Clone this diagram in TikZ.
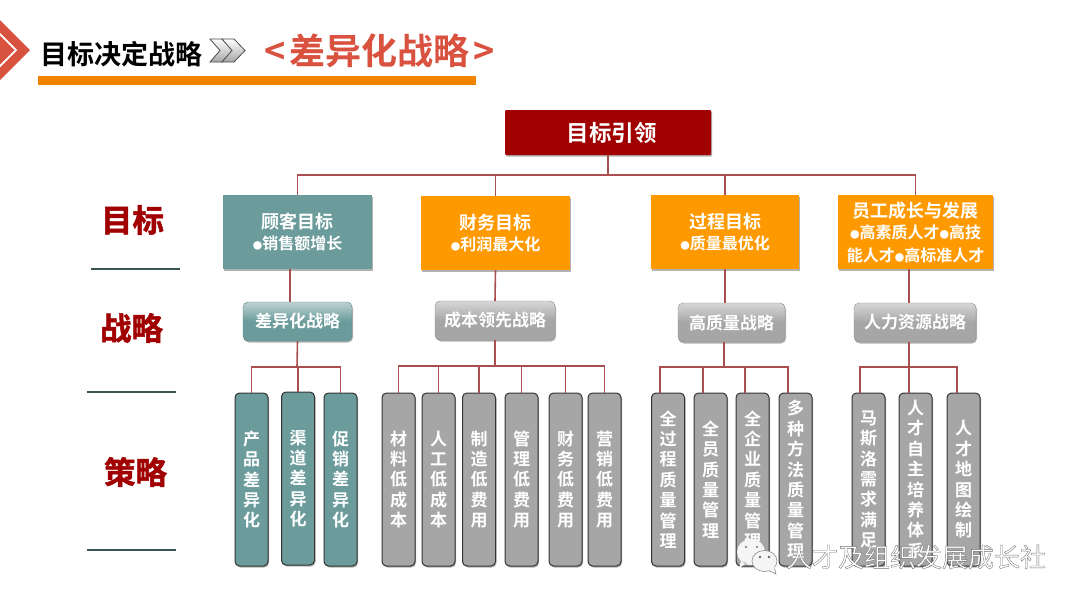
\documentclass[tikz,border=0pt]{standalone}
\usepackage{fontspec}
\setmainfont{Noto Sans CJK SC}[BoldFont={* Bold}]
\usetikzlibrary{shadows,shapes.geometric}
\definecolor{linkred}{HTML}{A94F50}
\definecolor{rootred}{HTML}{A00000}
\definecolor{titlered}{HTML}{D9513F}
\definecolor{teal}{HTML}{6B9B9B}
\definecolor{amber}{HTML}{FF9900}
\definecolor{barorange}{HTML}{F08300}
\definecolor{midgray}{HTML}{A6A6A6}
\tikzset{
	softshadow/.style={drop shadow={shadow xshift=1pt,shadow yshift=-1.5pt,opacity=0.3,fill=black}},
	link/.style={color=linkred, line width=1.6pt},
	rule/.style={color=teal!55!black, line width=1.8pt},
	rootbox/.style={rectangle, rounded corners=1pt, fill=rootred, softshadow, text=white, font=\bfseries\fontsize{22.5}{24}\selectfont, minimum width=206pt, minimum height=45pt, inner sep=0pt},
	goalbox/.style={rectangle, softshadow, text=white, font=\bfseries\fontsize{18}{24}\selectfont, align=center, minimum height=74pt, inner sep=0pt},
	stratbox/.style={rectangle, rounded corners=5pt, softshadow, text=white, font=\bfseries\fontsize{17}{18}\selectfont, minimum height=39pt, inner sep=0pt},
	tealstrat/.style={stratbox, draw=teal!85!black, top color=teal!45!white, bottom color=teal, middle color=teal},
	graystrat/.style={stratbox, draw=midgray!85!black, top color=midgray!45!white, bottom color=midgray, middle color=midgray},
	tacticbox/.style={rectangle, rounded corners=4.5pt, draw=black!80, line width=1pt, softshadow, text=white, font=\bfseries\fontsize{17}{20.4}\selectfont, align=center, minimum height=173pt, inner sep=0pt},
	sidelabel/.style={text=rootred, font=\bfseries\fontsize{31.5}{33}\selectfont, inner sep=0pt}
}
\newcommand{\goalline}[1]{{\fontsize{16}{21}\selectfont #1}}
\newcommand{\dotmark}{{\fontsize{9.5}{9}\selectfont ●}}
\newcommand{\outlined}[1]{\special{pdf:code 2 Tr 0.35 w 0.45 G}#1\special{pdf:code 0 Tr 0 G}}
\newcommand{\heavyred}[1]{\special{pdf:code 2 Tr 0.5 w 0.63 0 0 RG}#1\special{pdf:code 0 Tr 0 G}}

\begin{document}
\begin{tikzpicture}[x=1pt,y=-1pt]
	%%%%% START %%%%%
	\useasboundingbox (0, 0) rectangle (1080, 605);
	\fill[white] (0, 0) rectangle (1080, 605);

	% header
	\fill[titlered] (0, 20) -- (30, 50) -- (0, 80) -- (0, 67.5) -- (17.5, 50) -- (0, 32.5) -- cycle;
	\fill[titlered] (0, 35.5) -- (14.5, 50) -- (0, 64.5) -- cycle;
	\node[font=\bfseries\fontsize{27}{28}\selectfont, inner sep=0pt] (headline) at (121.5, 54) {目标决定战略};
	\draw[black!70, top color=white, bottom color=black!35, line width=0.8pt] (210, 39) -- (222, 39) -- (233, 50.5) -- (222, 62) -- (210, 62) -- (220, 50.5) -- cycle;
	\draw[black!70, top color=white, bottom color=black!35, line width=0.8pt] (222, 39) -- (234, 39) -- (245, 50.5) -- (234, 62) -- (222, 62) -- (232, 50.5) -- cycle;
	\node[text=titlered, font=\bfseries\fontsize{36}{38}\selectfont, inner sep=0pt] (headmain) at (380, 51) {<\kern4pt差异化战略\kern4pt>};
	\fill[barorange] (38, 76) rectangle (476, 85);

	% side labels
	\node[sidelabel] (lgoal) at (132.5, 220) {\heavyred{目标}};
	\node[sidelabel] (lstrat) at (131.5, 328) {\heavyred{战略}};
	\node[sidelabel] (ltactic) at (135.5, 472) {\heavyred{策略}};
	\draw[rule] (91, 269) -- (180, 269);
	\draw[rule] (87, 392) -- (176, 392);
	\draw[rule] (87, 550) -- (176, 550);

	% connectors behind the boxes
	\coordinate (busgoal) at (608, 175);
	\coordinate (busa) at (297, 367);
	\coordinate (busb) at (495, 366);
	\coordinate (busc) at (724, 367);
	\coordinate (busd) at (909, 367);

	% top level
	\node[rootbox] (root) at (608, 132.5) {\kern7pt目标引领};

	% goals
	\node[goalbox, fill=teal, minimum width=149pt] (goala) at (297.5, 232) {顾客目标\\[-3pt]\goalline{\dotmark 销售额增长}};
	\node[goalbox, fill=amber, minimum width=149pt] (goalb) at (495.5, 233) {财务目标\\[-3pt]\goalline{\dotmark 利润最大化}};
	\node[goalbox, fill=amber, minimum width=148pt] (goalc) at (725, 232) {过程目标\\[-3pt]\goalline{\dotmark 质量最优化}};
	\node[goalbox, fill=amber, minimum width=155pt] (goald) at (915.5, 232) {员工成长与发展\\[-3pt]\goalline{\dotmark 高素质人才\dotmark 高技}\\[-1pt]\goalline{能人才\dotmark 高标准人才}};

	% strategies
	\node[tealstrat, minimum width=109pt] (strata) at (297.5, 321.5) {差异化战略};
	\node[graystrat, minimum width=120pt] (stratb) at (495, 320.5) {成本领先战略};
	\node[graystrat, minimum width=107pt] (stratc) at (731.5, 322.5) {高质量战略};
	\node[graystrat, minimum width=122pt] (stratd) at (915, 322.5) {人力资源战略};

	% tactics
	\node[tacticbox, fill=teal, minimum width=33pt] (ta1) at (251.5, 479.5) {产\\品\\差\\异\\化};
	\node[tacticbox, fill=teal, minimum width=33pt] (ta2) at (298, 478.5) {渠\\道\\差\\异\\化};
	\node[tacticbox, fill=teal, minimum width=33pt] (ta3) at (340.5, 479.5) {促\\销\\差\\异\\化};

	\node[tacticbox, fill=midgray, minimum width=33pt] (tb1) at (398.5, 479.5) {材\\料\\低\\成\\本};
	\node[tacticbox, fill=midgray, minimum width=33pt] (tb2) at (438.5, 479.5) {人\\工\\低\\成\\本};
	\node[tacticbox, fill=midgray, minimum width=33pt] (tb3) at (479, 479.5) {制\\造\\低\\费\\用};
	\node[tacticbox, fill=midgray, minimum width=33pt] (tb4) at (521.5, 479.5) {管\\理\\低\\费\\用};
	\node[tacticbox, fill=midgray, minimum width=33pt] (tb5) at (565.5, 479.5) {财\\务\\低\\费\\用};
	\node[tacticbox, fill=midgray, minimum width=33pt] (tb6) at (604.5, 479.5) {营\\销\\低\\费\\用};

	\node[tacticbox, fill=midgray, minimum width=33pt] (tc1) at (668, 479.5) {全\\过\\程\\质\\量\\管\\理};
	\node[tacticbox, fill=midgray, minimum width=33pt] (tc2) at (710.5, 479.5) {全\\员\\质\\量\\管\\理};
	\node[tacticbox, fill=midgray, minimum width=33pt] (tc3) at (752.5, 479.5) {全\\企\\业\\质\\量\\管\\理};
	\node[tacticbox, fill=midgray, minimum width=33pt] (tc4) at (795.5, 479.5) {多\\种\\方\\法\\质\\量\\管\\理};

	\node[tacticbox, fill=midgray, minimum width=33pt] (td1) at (868.5, 479.5) {马\\斯\\洛\\需\\求\\满\\足};
	\node[tacticbox, fill=midgray, minimum width=33pt] (td2) at (915.5, 479.5) {人\\才\\自\\主\\培\\养\\体\\系};
	\node[tacticbox, fill=midgray, minimum width=33pt] (td3) at (963.5, 479.5) {人\\才\\地\\图\\绘\\制};

	% root to goals
	\draw[link] (root.south) -- (busgoal);
	\draw[link] (busgoal) -| (goala.north);
	\draw[link] (busgoal) -| (goalb.north);
	\draw[link] (busgoal) -| (goalc.north);
	\draw[link] (busgoal) -| (goald.north);

	% goals to strategies
	\draw[link] ([xshift=-7.5pt]goala.south) -- ([xshift=-7.5pt]strata.north);
	\draw[link] (goalb.south) -- (stratb.north);
	\draw[link] (goalc.south) -- ([xshift=-6.5pt]stratc.north);
	\draw[link] ([xshift=-6.5pt]goald.south) -- ([xshift=-6pt]stratd.north);

	% strategies to tactics
	\draw[link] (strata.south) -- (busa);
	\draw[link] (busa) -| (ta1.north);
	\draw[link] (busa) -| (ta2.north);
	\draw[link] (busa) -| (ta3.north);

	\draw[link] (stratb.south) -- (busb);
	\draw[link] (busb) -| (tb1.north);
	\draw[link] (busb) -| (tb2.north);
	\draw[link] (busb) -| (tb3.north);
	\draw[link] (busb) -| (tb4.north);
	\draw[link] (busb) -| (tb5.north);
	\draw[link] (busb) -| (tb6.north);

	\draw[link] ([xshift=-7.5pt]stratc.south) -- (busc);
	\draw[link] (busc) -| ([xshift=-8pt]tc1.north);
	\draw[link] (busc) -| ([xshift=-7.5pt]tc2.north);
	\draw[link] (busc) -| ([xshift=-7.5pt]tc3.north);
	\draw[link] (busc) -| ([xshift=-7.5pt]tc4.north);

	\draw[link] ([xshift=-6pt]stratd.south) -- (busd);
	\draw[link] (busd) -| ([xshift=-8.5pt]td1.north);
	\draw[link] (busd) -| ([xshift=-6.5pt]td2.north);
	\draw[link] (busd) -| ([xshift=-6.5pt]td3.north);

	% watermark
	\fill[black!4] (751, 552) ellipse (14 and 13) (741, 561) -- (739, 568) -- (747, 563) -- cycle;
	\draw[black!45, fill=black!4, line width=0.6pt] (764.5, 561) ellipse (12.5 and 10.5);
	\fill[black!4] (769, 570) -- (776, 574) -- (774, 566) -- cycle;
	\draw[black!45, line width=0.6pt] (769.5, 571) -- (776, 574) -- (774.5, 568.5);
	\fill[black!55] (746, 547) circle (1.2);
	\fill[black!55] (757, 547) circle (1.2);
	\fill[black!60] (760, 557) circle (1.3);
	\fill[black!60] (769, 557) circle (1.3);
	\node[text=white, font=\fontsize{26}{28}\selectfont, inner sep=0pt] (mark) at (916, 557) {\outlined{人才及组织发展成长社}};
	%%%%% END %%%%%
\end{tikzpicture}
\end{document}
